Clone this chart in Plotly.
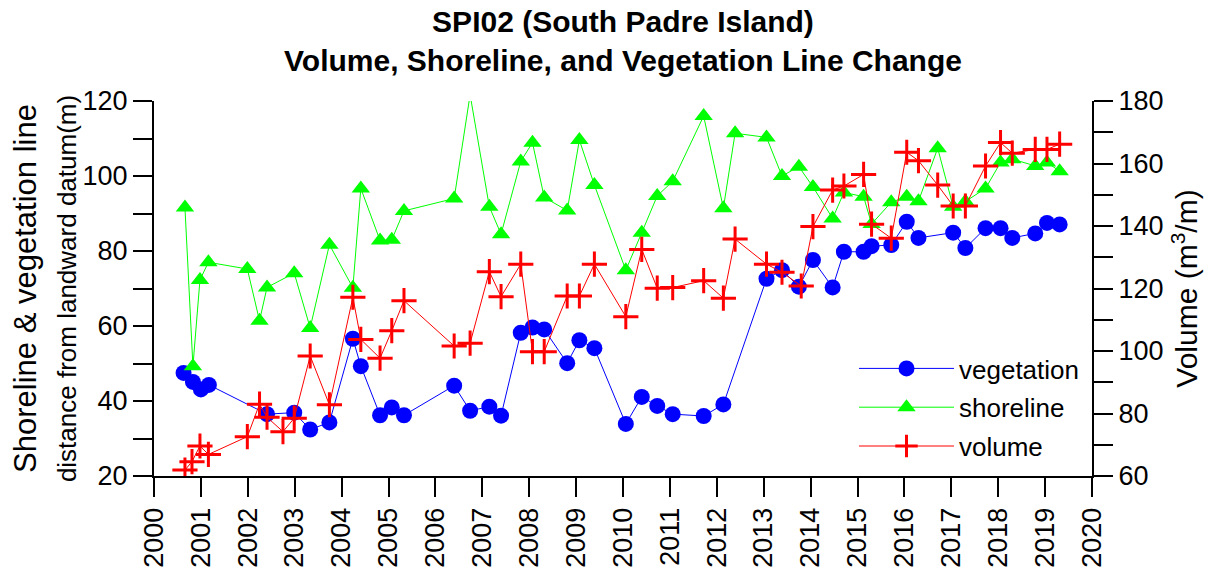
import plotly.graph_objects as go

# ---- data (decimal years) ----
veg_x = [2000.63, 2000.83, 2001.00, 2001.17, 2002.41, 2002.99, 2003.33, 2003.74, 2004.24, 2004.41,
         2004.82, 2005.07, 2005.33, 2006.40, 2006.74, 2007.15, 2007.40, 2007.82, 2008.07, 2008.32,
         2008.81, 2009.07, 2009.39, 2010.06, 2010.40, 2010.73, 2011.06, 2011.72, 2012.14, 2013.06,
         2013.39, 2013.75, 2014.05, 2014.47, 2014.71, 2015.13, 2015.30, 2015.72, 2016.05, 2016.30,
         2017.04, 2017.30, 2017.73, 2018.05, 2018.30, 2018.79, 2019.04, 2019.31]
veg_y = [47.5, 45.1, 43.1, 44.3, 36.5, 36.9, 32.4, 34.3, 56.6, 49.3,
         36.2, 38.3, 36.2, 44.1, 37.4, 38.5, 36.1, 58.2, 59.6, 59.1,
         50.1, 56.2, 54.1, 33.9, 41.1, 38.7, 36.5, 36.0, 39.1, 72.6,
         74.9, 70.5, 77.6, 70.3, 79.8, 79.8, 81.3, 81.6, 87.8, 83.5,
         84.9, 80.8, 86.1, 86.1, 83.5, 84.7, 87.5, 87.1]

shore_x = [2000.66, 2000.83, 2000.98, 2001.16, 2001.99, 2002.25, 2002.41, 2002.99, 2003.33, 2003.74,
           2004.24, 2004.41, 2004.82, 2005.07, 2005.33, 2006.40, 2006.74, 2007.15, 2007.40, 2007.82,
           2008.07, 2008.32, 2008.81, 2009.07, 2009.39, 2010.06, 2010.40, 2010.73, 2011.06, 2011.72,
           2012.14, 2012.39, 2013.06, 2013.39, 2013.75, 2014.05, 2014.47, 2014.71, 2015.13, 2015.30,
           2015.72, 2016.05, 2016.30, 2016.71, 2017.04, 2017.30, 2017.73, 2018.05, 2018.30, 2018.79,
           2019.04, 2019.31]
shore_y = [91.6, 49.3, 72.3, 77.0, 75.2, 61.4, 70.3, 74.1, 59.5, 81.7,
           70.2, 96.7, 82.8, 83.0, 90.7, 94.0, 121.7, 91.8, 84.5, 103.9,
           108.9, 94.3, 90.8, 109.6, 97.6, 74.9, 84.9, 94.7, 98.6, 116.0,
           91.4, 111.4, 110.3, 100.0, 102.5, 97.1, 88.7, 95.6, 94.5, 87.2,
           93.0, 94.5, 93.3, 107.4, 91.8, 93.2, 96.7, 103.6, 104.5, 102.7,
           103.6, 101.3]

vol_x = [2000.66, 2000.81, 2000.98, 2001.16, 2001.99, 2002.25, 2002.41, 2002.75, 2002.99, 2003.33,
         2003.74, 2004.24, 2004.41, 2004.82, 2005.07, 2005.33, 2006.40, 2006.74, 2007.15, 2007.40,
         2007.82, 2008.07, 2008.32, 2008.81, 2009.07, 2009.39, 2010.06, 2010.40, 2010.73, 2011.06,
         2011.72, 2012.14, 2012.39, 2013.06, 2013.39, 2013.80, 2014.05, 2014.47, 2014.71, 2015.13,
         2015.30, 2015.72, 2016.05, 2016.30, 2016.71, 2017.04, 2017.30, 2017.73, 2018.05, 2018.30,
         2018.79, 2019.04, 2019.31]
vol_y = [61.9, 64.6, 69.6, 66.9, 72.6, 83.0, 78.8, 74.2, 78.5, 98.4,
         82.8, 117.2, 103.7, 97.7, 106.5, 116.1, 101.6, 102.5, 125.4, 117.4,
         127.8, 99.8, 99.8, 117.6, 117.6, 127.8, 111.0, 132.5, 120.1, 120.3,
         122.5, 116.9, 135.8, 127.8, 125.2, 120.8, 139.8, 151.5, 152.8, 156.5,
         140.6, 136.1, 163.6, 160.9, 153.1, 146.4, 146.4, 159.2, 166.7, 163.3,
         164.5, 164.5, 166.2]

year_ticks = list(range(2000, 2021))

FONT = "Liberation Sans, Arial, sans-serif"
W, H = 1205, 565

fig = go.Figure()
fig.add_trace(go.Scatter(x=veg_x, y=veg_y, name="vegetation", mode="lines+markers",
                         legendgroup="v",
                         line=dict(color="#0000FF", width=1),
                         marker=dict(symbol="circle", size=16, color="#0000FF")))
fig.add_trace(go.Scatter(x=shore_x, y=shore_y, name="shoreline", mode="lines+markers",
                         legendgroup="s",
                         line=dict(color="#00FF00", width=1),
                         marker=dict(symbol="triangle-up", size=16, color="#00FF00")))
fig.add_trace(go.Scatter(x=vol_x, y=vol_y, name="volume", mode="lines+markers", yaxis="y2",
                         legendgroup="o",
                         line=dict(color="#FF0000", width=1),
                         marker=dict(symbol="cross-thin-open", size=18,
                                     line=dict(color="#FF0000", width=3))))

tick_common = dict(ticks="outside", ticklen=19, tickwidth=1.5, tickcolor="black",
                   showline=True, linecolor="black", linewidth=2, showgrid=False,
                   zeroline=False, tickfont=dict(size=27), automargin=False)
minor_common = dict(ticks="outside", ticklen=19, tickwidth=1.5, tickcolor="black")

fig.update_layout(
    width=W, height=H,
    margin=dict(l=146, r=121, t=93, b=97),
    paper_bgcolor="white", plot_bgcolor="white",
    font=dict(family=FONT, color="black", size=26),
    title=dict(text="<b>SPI02 (South Padre Island)<br>Volume, Shoreline, and Vegetation Line Change</b>",
               x=0.5, xanchor="center", xref="paper", y=1 - 24 / H, yanchor="middle",
               font=dict(size=30, family=FONT)),
    showlegend=True,
    legend=dict(x=1.0 - 8 / 939, y=1 - (337 - 93) / 375, xanchor="right", yanchor="top",
                bgcolor="rgba(0,0,0,0)", font=dict(size=26), tracegroupgap=2,
                itemwidth=95),
    xaxis=dict(range=[2000, 2020], tickmode="array", tickvals=year_ticks,
               ticktext=[str(v) for v in year_ticks], tickangle=-90, **tick_common),
    yaxis=dict(range=[20, 120], dtick=20, tick0=20, minor=dict(dtick=10, **minor_common),
               title=dict(text="Shoreline & vegetation line<br><span style='font-size:26px'>distance from landward datum(m)</span>",
                          font=dict(size=31), standoff=6),
               **tick_common),
    yaxis2=dict(range=[60, 180], dtick=20, tick0=60, overlaying="y", side="right",
                minor=dict(dtick=10, **minor_common),
                title=dict(text="Volume (m<sup>3</sup>/m)", font=dict(size=30), standoff=14),
                **tick_common),
)

fig.write_html("out.html")
